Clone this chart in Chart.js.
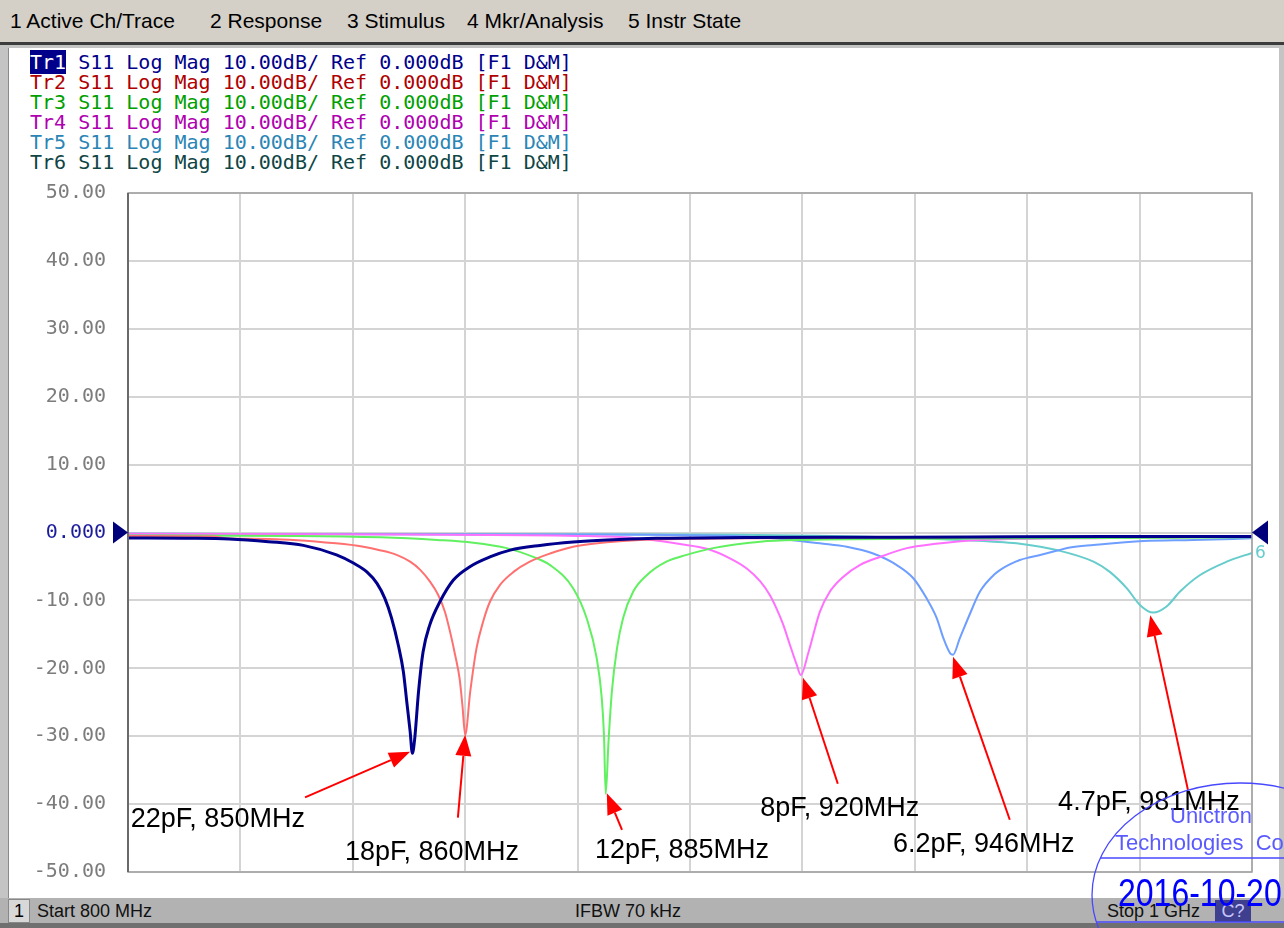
<!DOCTYPE html>
<html>
<head>
<meta charset="utf-8">
<script src="https://cdn.jsdelivr.net/npm/chart.js@4.4.1/dist/chart.umd.min.js"></script>
<style>
  body { margin: 0; width: 1284px; height: 928px; overflow: hidden; position: relative; background: #c4c4c4; font-family: "Liberation Sans", Arial, sans-serif; }
  #menu { position: absolute; left: 0; top: 0; width: 1284px; height: 42px; background: #d4d0c8; }
  #menu span { position: absolute; top: 9px; font-size: 21px; color: #000; }
  #sep { position: absolute; left: 0; top: 42px; width: 1284px; height: 3px; background: #3c3c3c; }
  #panel { position: absolute; left: 8px; top: 48px; width: 1270px; height: 850px; background: #fff; border-left: 1px solid #8a8a8a; }
  .tr { position: absolute; left: 30px; font-family: "DejaVu Sans Mono", monospace; font-size: 20px; line-height: 20px; white-space: pre; }
  #status { position: absolute; left: 0; top: 898px; width: 1284px; height: 25px; background: #b2b2b2; border-bottom: 5px solid #707070; }
  #status span { position: absolute; top: 3px; font-size: 18px; color: #111; }
  #chbox { position: absolute; left: 8px; top: 899px; width: 20px; height: 22px; background: #d8d8d8; border: 1px solid #888; }
  #cbox { position: absolute; left: 1215px; top: 900px; width: 36px; height: 22px; background: #3f3f8f; color: #c8c8ff; font-size: 18px; text-align: center; line-height: 22px; }
  canvas { position: absolute; left: 0; top: 0; }
</style>
</head>
<body>
<div id="menu">
  <span style="left:10px">1 Active Ch/Trace</span>
  <span style="left:210px">2 Response</span>
  <span style="left:347px">3 Stimulus</span>
  <span style="left:467px">4 Mkr/Analysis</span>
  <span style="left:628px">5 Instr State</span>
</div>
<div id="sep"></div>
<div id="panel"></div>
<div id="legend"></div>
<div id="status">
  <span style="left:37px">Start 800 MHz</span>
  <span style="left:575px">IFBW 70 kHz</span>
  <span style="left:1107px">Stop 1 GHz</span>
</div>
<div id="chbox"><span style="position:absolute;left:5px;top:1px;font-size:18px">1</span></div>
<div id="cbox">C?</div>
<canvas id="myChart" width="1284" height="928"></canvas>
<script>
// trace names and colours
const traceNames = ['Tr1', 'Tr2', 'Tr3', 'Tr4', 'Tr5', 'Tr6'];
const legendText = ' S11 Log Mag 10.00dB/ Ref 0.000dB [F1 D&M]';
const refLevel = 0;

// S11 readings, MHz / dB
const freq1 = [800, 810, 818, 825, 831.2, 837.1, 840.1, 842.5, 844.3, 845.7, 846.9, 848.1, 849.0, 849.6, 850.2, 850.6, 851.0, 851.7, 852.5, 853.7, 855.5, 857.9, 860.9, 864.4, 868, 873.3, 879.2, 885.2, 894, 910, 930, 950, 975, 1000];
const s11_1 = [-0.8, -0.85, -0.95, -1.35, -1.9, -3.3, -4.5, -5.8, -7.5, -9.7, -12.6, -16.6, -20.5, -24.9, -29.3, -32.5, -30.5, -23.4, -17.6, -13.6, -10.2, -7.0, -5.0, -3.6, -2.6, -1.9, -1.4, -1.1, -0.86, -0.75, -0.7, -0.65, -0.6, -0.6];

const freq2 = [800, 815, 818, 825, 837, 841.9, 844.8, 847.8, 850.2, 852.0, 853.7, 855.2, 856.4, 857.3, 858.2, 859.0, 859.5, 860.0, 860.9, 862.0, 863.2, 864.4, 866.2, 868.6, 871.5, 875.1, 879.2, 885.2, 891.1, 905, 930, 960, 1000];
const s11_2 = [-0.5, -0.6, -0.9, -0.95, -1.6, -2.1, -2.6, -3.3, -4.3, -5.5, -7.2, -9.2, -11.7, -14.6, -18.0, -21.5, -25.4, -29.8, -23.4, -17.1, -13.1, -10.2, -7.7, -5.8, -4.3, -3.1, -2.1, -1.45, -1.1, -0.9, -0.75, -0.65, -0.6];

const freq3 = [800, 830, 845, 855, 861.4, 867.4, 872.1, 875.1, 879.2, 881.6, 883.4, 884.3, 884.7, 885.0, 885.5, 886.1, 887, 888.1, 889.9, 892.3, 895.8, 899.4, 904.1, 912.5, 919.6, 950, 1000];
const s11_3 = [-0.45, -0.5, -0.7, -1.1, -1.5, -2.3, -3.6, -4.8, -8.2, -12.6, -18.5, -24.4, -30, -38.5, -30.8, -23.4, -17.1, -12.6, -8.7, -6.3, -4.3, -3.3, -2.3, -1.35, -1.1, -0.9, -0.7];

const freq4 = [800, 850, 880, 890, 895, 898.2, 903, 907.1, 910.1, 912.5, 914.2, 915.4, 916.6, 917.8, 919.0, 919.7, 921.1, 923.1, 924.9, 927.3, 930.2, 933.8, 938.6, 943.3, 951.6, 975, 1000];
const s11_4 = [-0.2, -0.3, -0.5, -0.8, -1.3, -1.7, -2.4, -3.8, -5.3, -7.2, -9.2, -11.2, -13.6, -16.6, -19.5, -21, -17.6, -11.7, -8.7, -6.5, -4.8, -3.6, -2.3, -1.7, -1.1, -0.8, -0.6];

const freq5 = [800, 880, 910, 918, 923.1, 927.9, 932.6, 936.8, 939.7, 942.1, 943.9, 945.1, 946.3, 946.8, 948, 949.8, 951.6, 954, 955.2, 956.9, 958.7, 960.5, 962.3, 965.2, 967.6, 971.8, 980.7, 989.5, 1000];
const s11_5 = [-0.2, -0.3, -0.6, -1.1, -1.6, -2.1, -3.1, -4.8, -6.7, -9.7, -12.6, -15.6, -17.8, -18.0, -15.6, -12.0, -8.7, -6.3, -5.5, -4.7, -4.05, -3.65, -3.3, -2.7, -2.2, -1.84, -1.25, -1.1, -0.86];

const freq6 = [800, 900, 930, 945, 954, 958.1, 965.8, 971.8, 974.7, 977.7, 980.1, 982.4, 984.8, 987.2, 990.7, 995.5, 1000];
const s11_6 = [-0.2, -0.3, -0.6, -1.0, -1.35, -1.6, -2.7, -4.3, -5.8, -8.2, -10.7, -11.8, -10.9, -8.7, -6.3, -4.3, -3.0];

// callouts: label, arrow tip, arrow tail, text anchor (MHz, dB)
const noteText = ['22pF, 850MHz', '18pF, 860MHz', '12pF, 885MHz', '8pF, 920MHz', '6.2pF, 946MHz', '4.7pF, 981MHz'];
const noteTip  = [[850.2, -32.3], [860.0, -29.8], [885.2, -38.4], [920.1, -21.4], [946.8, -18.3], [981.9, -12.2]];
const noteTail = [[831.5, -39.0], [858.7, -42.0], [887.9, -43.8], [926.3, -37.0], [956.9, -42.3], [988.6, -37.9]];
const noteAt   = [[800.5, -42.3], [838.6, -47.1], [883.1, -46.8], [912.5, -40.6], [936.1, -46.0], [965.5, -39.7]];

const lineColors = ['#00008c', '#ff7070', '#60f060', '#ff70ff', '#6e9eff', '#66cccc'];
const textColors = ['#00008b', '#b00000', '#00a000', '#b000b0', '#2a85b5', '#0f4545'];
const lineWidths = [3, 2, 2, 2, 2, 2];

// trace header lines
const legend = document.getElementById('legend');
traceNames.forEach((name, i) => {
    const d = document.createElement('div');
    d.className = 'tr';
    d.style.top = (52 + i * 20) + 'px';
    d.style.color = textColors[i];
    if (i === 0) {
        d.innerHTML = '<span style="background:#00008b;color:#fff">' + name + '</span>' + legendText.replace('&', '&amp;');
    } else {
        d.textContent = name + legendText;
    }
    legend.appendChild(d);
});

const allFreq = [freq1, freq2, freq3, freq4, freq5, freq6];
const allS11 = [s11_1, s11_2, s11_3, s11_4, s11_5, s11_6];

const datasets = allFreq.map((f, i) => ({
    label: traceNames[i],
    data: f.map((v, k) => ({ x: v, y: allS11[i][k] })),
    borderColor: lineColors[i],
    borderWidth: lineWidths[i],
    pointRadius: 0,
    cubicInterpolationMode: 'monotone',
    fill: false
}));

function drawArrow(ctx, x1, y1, x2, y2) {
    const a = Math.atan2(y2 - y1, x2 - x1);
    const len = 21, half = 8;
    const bx = x2 - len * Math.cos(a), by = y2 - len * Math.sin(a);
    ctx.beginPath();
    ctx.moveTo(x1, y1);
    ctx.lineTo(bx, by);
    ctx.stroke();
    ctx.beginPath();
    ctx.moveTo(x2, y2);
    ctx.lineTo(bx + half * Math.sin(a), by - half * Math.cos(a));
    ctx.lineTo(bx - half * Math.sin(a), by + half * Math.cos(a));
    ctx.closePath();
    ctx.fill();
}

const decorations = {
    id: 'decorations',
    afterDatasetsDraw(chart) {
        const { ctx, chartArea: a, scales: { x, y } } = chart;
        ctx.save();
        // plot frame
        ctx.strokeStyle = '#a0a0a0';
        ctx.lineWidth = 1.5;
        ctx.strokeRect(a.left, a.top, a.right - a.left, a.bottom - a.top);
        ctx.strokeStyle = '#6a6a6a';
        ctx.lineWidth = 2;
        ctx.beginPath();
        ctx.moveTo(a.left, a.top);
        ctx.lineTo(a.left, a.bottom);
        ctx.stroke();

        // reference level markers
        const y0 = y.getPixelForValue(refLevel);
        ctx.fillStyle = '#00007a';
        ctx.beginPath();
        ctx.moveTo(a.left - 15, y0 - 11);
        ctx.lineTo(a.left, y0);
        ctx.lineTo(a.left - 15, y0 + 11);
        ctx.closePath();
        ctx.fill();
        ctx.beginPath();
        ctx.moveTo(a.right + 16, y0 - 12);
        ctx.lineTo(a.right, y0);
        ctx.lineTo(a.right + 16, y0 + 12);
        ctx.closePath();
        ctx.fill();

        // trace number at end of Tr6
        const last = freq6.length - 1;
        ctx.fillStyle = lineColors[5];
        ctx.font = '17px "DejaVu Sans", sans-serif';
        ctx.textBaseline = 'middle';
        ctx.fillText('6', x.getPixelForValue(freq6[last]) + 3, y.getPixelForValue(s11_6[last]) + 1);

        // callouts
        ctx.strokeStyle = '#ff0000';
        ctx.fillStyle = '#ff0000';
        ctx.lineWidth = 2;
        noteText.forEach((t, i) => {
            drawArrow(ctx,
                x.getPixelForValue(noteTail[i][0]), y.getPixelForValue(noteTail[i][1]),
                x.getPixelForValue(noteTip[i][0]), y.getPixelForValue(noteTip[i][1]));
        });
        ctx.fillStyle = '#000';
        ctx.font = '27px "Liberation Sans", Arial, sans-serif';
        ctx.textAlign = 'left';
        ctx.textBaseline = 'middle';
        noteText.forEach((t, i) => {
            ctx.fillText(t, x.getPixelForValue(noteAt[i][0]), y.getPixelForValue(noteAt[i][1]));
        });
        ctx.restore();
    },
    afterDraw(chart) {
        // company stamp
        const ctx = chart.ctx;
        ctx.save();
        ctx.strokeStyle = '#4848ff';
        ctx.lineWidth = 1.3;
        ctx.beginPath();
        ctx.ellipse(1240, 895, 148, 112, 0, 0, Math.PI * 2);
        ctx.stroke();
        ctx.beginPath();
        ctx.moveTo(1100, 858); ctx.lineTo(1284, 858);
        ctx.moveTo(1097, 922); ctx.lineTo(1284, 922);
        ctx.stroke();
        ctx.fillStyle = '#5a5aff';
        ctx.font = '22px "Liberation Sans", Arial, sans-serif';
        ctx.textBaseline = 'middle';
        ctx.fillText('Unictron', 1170, 817);
        ctx.fillText('Technologies  Co', 1115, 844);
        ctx.fillStyle = '#0000ff';
        ctx.font = '32px "Liberation Sans", Arial, sans-serif';
        ctx.translate(1118, 895);
        ctx.scale(1, 1.2);
        ctx.fillText('2016-10-20', 0, 0);
        ctx.restore();
    }
};

const ctx = document.getElementById('myChart').getContext('2d');
const myChart = new Chart(ctx, {
    type: 'line',
    data: { datasets: datasets },
    options: {
        responsive: false,
        animation: false,
        devicePixelRatio: 1,
        layout: { padding: { left: 0, right: 32, top: 193, bottom: 56 } },
        plugins: { legend: { display: false }, tooltip: { enabled: false } },
        scales: {
            x: {
                type: 'linear',
                min: 800,
                max: 1000,
                border: { display: false },
                grid: { color: '#d4d4d4', lineWidth: 2, drawTicks: false },
                ticks: { display: false, stepSize: 20 },
                afterFit: (s) => { s.height = 0; }
            },
            y: {
                min: -50,
                max: 50,
                border: { display: false },
                grid: { color: '#d4d4d4', lineWidth: 2, drawTicks: false },
                ticks: {
                    stepSize: 10,
                    padding: 22,
                    font: { family: '"DejaVu Sans Mono", monospace', size: 20 },
                    color: (c) => c.tick && c.tick.value === refLevel ? '#1c1c9c' : '#7c7c7c',
                    callback: (v) => v === refLevel ? '0.000' : v.toFixed(2)
                },
                afterFit: (s) => { s.width = 128; }
            }
        }
    },
    plugins: [decorations]
});
</script>
</body>
</html>
